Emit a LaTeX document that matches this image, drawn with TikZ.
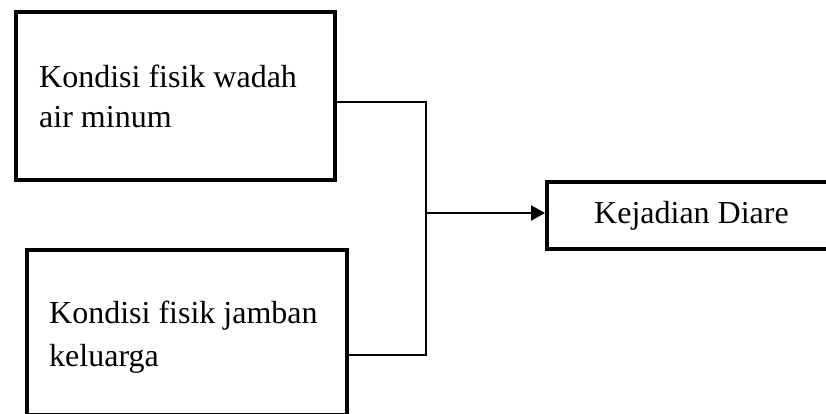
\documentclass[tikz,border=0pt]{standalone}
\usepackage{fontspec}
\setmainfont{Liberation Serif}
\usetikzlibrary{arrows.meta}
\tikzset{
  box/.style={draw=black, line width=4pt, fill=white, inner sep=0pt},
  label text/.style={inner sep=0pt, anchor=base west, align=left,
    font=\fontsize{32}{40}\selectfont},
  link/.style={draw=black, line width=1.8pt},
  flow/.style={draw=black, line width=2.2pt, -{Triangle[length=14pt,width=15pt]}}
}
\begin{document}
\begin{tikzpicture}[x=1pt, y=-1pt]
  \useasboundingbox (0,0) rectangle (826,414);
  \clip (0,0) rectangle (826,414);

  % outer boxes
  \node[box, minimum width=319pt, minimum height=168pt] (wadah) at (175.5,96) {};
  \node[box, minimum width=319.5pt, minimum height=165pt] (jamban) at (186.75,332.5) {};
  \node[box, minimum width=283pt, minimum height=67pt] (diare) at (688.5,215) {};

  % box texts (anchored at the baseline of the last line)
  \node[label text] (twadah) at (39,128) {Kondisi fisik wadah\\air minum};
  \node[label text, font=\fontsize{32}{43}\selectfont] (tjamban) at (49,366) {Kondisi fisik jamban\\keluarga};
  \node[label text] (tdiare) at (594,223) {Kejadian Diare};

  % joining lines
  \coordinate (jtop) at (426,102);
  \coordinate (jbot) at (426,355);
  \coordinate (jmid) at (426,213);
  \draw[link] (wadah.east |- jtop) -- (jtop) -- (jbot) -- (jamban.east |- jbot);
  \draw[flow] (jmid) -- (diare.west |- jmid);
\end{tikzpicture}
\end{document}
